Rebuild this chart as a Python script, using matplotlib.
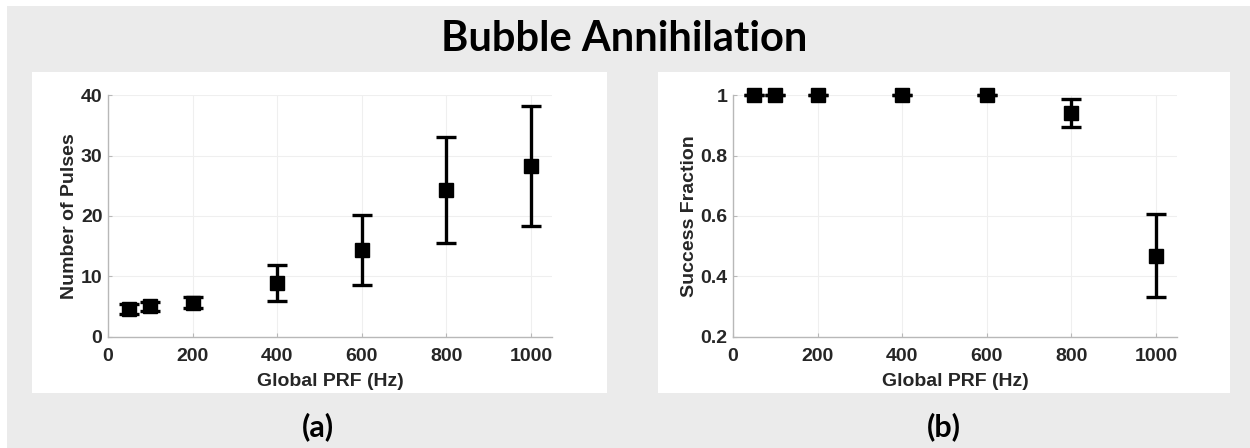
import matplotlib
matplotlib.use("Agg")
import matplotlib.pyplot as plt
from matplotlib.patches import Rectangle

# Global pulse repetition frequency (Hz)
prf_hz = [50, 100, 200, 400, 600, 800, 1000]

# (a) pulses needed for annihilation: mean and error
pulses_mean = [4.6, 5.0, 5.6, 8.9, 14.3, 24.3, 28.3]
pulses_err = [0.8, 0.8, 0.9, 3.0, 5.8, 8.75, 9.9]

# (b) success fraction: mean and error
success_mean = [1.0, 1.0, 1.0, 1.0, 1.0, 0.942, 0.468]
success_err = [0.0, 0.0, 0.0, 0.0, 0.0, 0.047, 0.138]

x_ticks = [0, 200, 400, 600, 800, 1000]
pulse_ticks = [0, 10, 20, 30, 40]
frac_ticks = [0.2, 0.4, 0.6, 0.8, 1.0]
frac_tick_labels = ["0.2", "0.4", "0.6", "0.8", "1"]

plt.rcParams["font.family"] = ["Liberation Sans", "DejaVu Sans"]
plt.rcParams["font.weight"] = "bold"
plt.rcParams["axes.labelweight"] = "bold"
plt.rcParams["font.size"] = 14

W, H = 1250, 448
fig = plt.figure(figsize=(W / 100, H / 100), dpi=100, facecolor="white")


def px_rect(x0, y0, x1, y1):
    """Rectangle in figure fractions from pixel corners (origin top-left)."""
    return (x0 / W, 1 - y1 / H, (x1 - x0) / W, (y1 - y0) / H)


# grey slide background and the two white panels
for (x0, y0, x1, y1), col in [((7, 6, 1250, 448), "#ebebeb"),
                              ((32, 72, 607, 393), "white"),
                              ((658, 72, 1230, 393), "white")]:
    l, b, w, h = px_rect(x0, y0, x1, y1)
    fig.patches.append(Rectangle((l, b), w, h, transform=fig.transFigure,
                                 facecolor=col, edgecolor="none", zorder=-5))

fig.text(624 / W, 1 - 39 / H, "Bubble Annihilation", ha="center", va="center",
         fontsize=30, fontweight="bold", family="Lato", color="black")
fig.text(318 / W, 1 - 427 / H, "(a)", ha="center", va="center",
         fontsize=22, fontweight="bold", family="Lato", color="black")
fig.text(944 / W, 1 - 427 / H, "(b)", ha="center", va="center",
         fontsize=22, fontweight="bold", family="Lato", color="black")

TEXT_COL = "#262626"
AXIS_COL = "#b8b8b8"


def style_axes(ax):
    ax.patch.set_alpha(0)
    for side in ("top", "right"):
        ax.spines[side].set_visible(False)
    for side in ("left", "bottom"):
        ax.spines[side].set_color(AXIS_COL)
        ax.spines[side].set_linewidth(1.0)
    ax.grid(True, color="#efefef", linewidth=0.8)
    ax.set_axisbelow(True)
    ax.tick_params(direction="in", length=3, color=AXIS_COL, labelcolor=TEXT_COL,
                   labelsize=14)
    ax.tick_params(axis="x", pad=8)
    ax.tick_params(axis="y", pad=4)


errkw = dict(fmt="s", color="black", ecolor="black", markersize=10.5,
             elinewidth=2.4, capsize=7.5, capthick=2.4, clip_on=False, zorder=3)

ax1 = fig.add_axes(px_rect(108, 95.5, 552, 336.5))
ax1.errorbar(prf_hz, pulses_mean, yerr=pulses_err, **errkw)
ax1.set_xlim(0, 1050)
ax1.set_ylim(0, 40)
ax1.set_xticks(x_ticks)
ax1.set_yticks(pulse_ticks)
ax1.set_xlabel("Global PRF (Hz)", labelpad=6, color=TEXT_COL)
ax1.set_ylabel("Number of Pulses", labelpad=2, color=TEXT_COL)
style_axes(ax1)

ax2 = fig.add_axes(px_rect(733, 95.5, 1177, 336.5))
ax2.errorbar(prf_hz, success_mean, yerr=success_err, **errkw)
ax2.set_xlim(0, 1050)
ax2.set_ylim(0.2, 1.0)
ax2.set_xticks(x_ticks)
ax2.set_yticks(frac_ticks)
ax2.set_yticklabels(frac_tick_labels)
ax2.set_xlabel("Global PRF (Hz)", labelpad=6, color=TEXT_COL)
ax2.set_ylabel("Success Fraction", labelpad=2, color=TEXT_COL)
style_axes(ax2)

fig.savefig("out.png", dpi=100, facecolor=fig.get_facecolor())
